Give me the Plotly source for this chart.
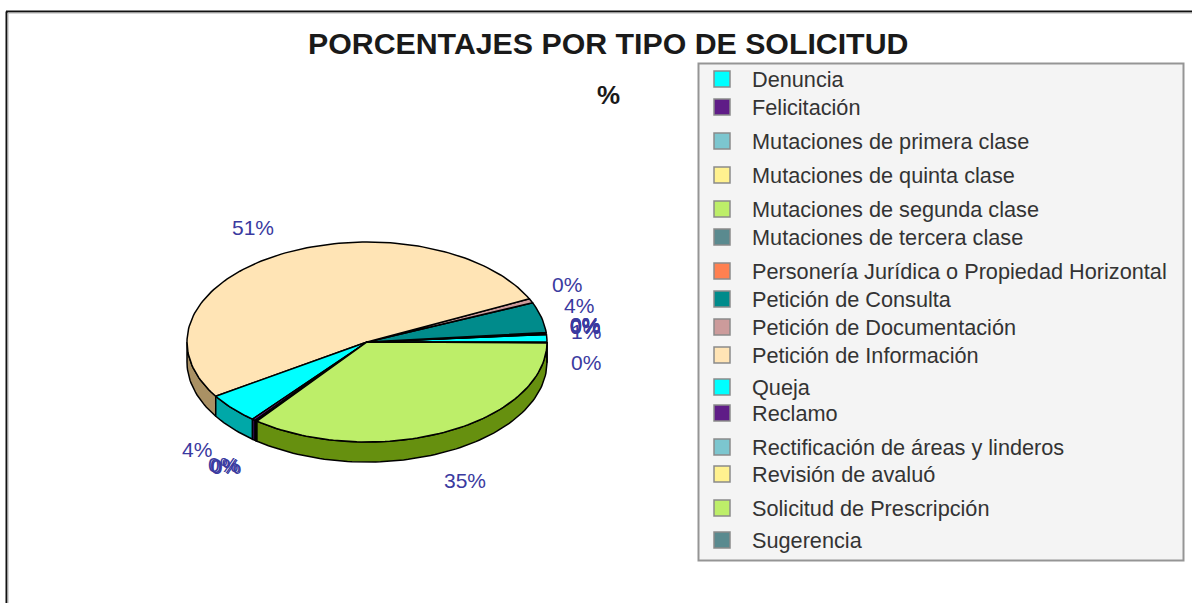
import math
import plotly.graph_objects as go

categories = ["Denuncia", "Felicitación", "Mutaciones de primera clase", "Mutaciones de quinta clase",
              "Mutaciones de segunda clase", "Mutaciones de tercera clase",
              "Personería Jurídica o Propiedad Horizontal", "Petición de Consulta",
              "Petición de Documentación", "Petición de Información", "Queja", "Reclamo",
              "Rectificación de áreas y linderos", "Revisión de avaluó",
              "Solicitud de Prescripción", "Sugerencia"]
values = [1.2, 0.05, 0.05, 0.05, 0.05, 0.05, 0.05, 4.9, 0.7, 51.9, 4.9, 0.3, 0.1, 0.1, 35.3, 0.1]
colors = ["#00ffff", "#5f1c87", "#7cc6cf", "#fff18f", "#bdee69", "#5a8a8f", "#ff8050", "#008b8b",
          "#cc9b9b", "#ffe4b5", "#00ffff", "#5f1c87", "#7cc6cf", "#fff18f", "#bdee69", "#5a8a8f"]
side_colors = ["#00a8a8", "#3c1058", "#508288", "#a89e5c", "#66900f", "#3a5a5e", "#a85434", "#005c5c",
               "#866666", "#aa9164", "#00a8a8", "#3c1058", "#508288", "#a89e5c", "#66900f", "#3a5a5e"]
legend_rows = [79, 107, 141, 175, 209, 237, 271, 299, 327, 355, 387, 413, 447, 474, 508, 540]

CX, CY, RX, RY, DEPTH = 367, 342, 180, 100, 20
LABEL = "#3a3aa0"
FONT = "Liberation Sans"
total = sum(values)


def arc(a0, a1, dy=0):
    n = max(2, int(abs(a1 - a0) / 1.5) + 2)
    pts = [a0 + (a1 - a0) * i / (n - 1) for i in range(n)]
    return ([CX + RX * math.cos(math.radians(p)) for p in pts],
            [CY + dy - RY * math.sin(math.radians(p)) for p in pts])


spans = []
acc = 0.0
for v in values:
    spans.append((acc, acc + v / total * 360))
    acc += v / total * 360

fig = go.Figure()
LINE = dict(color="black", width=1.5)
# extruded rim
for (a0, a1), sc in zip(spans, side_colors):
    lo, hi = max(a0, 180), min(a1, 360)
    if hi <= lo:
        continue
    xt, yt = arc(lo, hi)
    xb, yb = arc(hi, lo, DEPTH)
    fig.add_trace(go.Scatter(x=xt + xb + xt[:1], y=yt + yb + yt[:1], mode="lines", fill="toself",
                             fillcolor=sc, line=LINE, hoverinfo="skip", showlegend=False))
# top face
for (a0, a1), c in zip(spans, colors):
    xa, ya = arc(a0, a1)
    fig.add_trace(go.Scatter(x=[CX] + xa + [CX], y=[CY] + ya + [CY], mode="lines", fill="toself",
                             fillcolor=c, line=LINE, hoverinfo="skip", showlegend=False))

# percentage labels
for (a0, a1), v in zip(spans, values):
    m = math.radians((a0 + a1) / 2)
    c, s = math.cos(m), math.sin(m)
    x = CX + 215 * c + (-9 if c < 0 else 4)
    y = CY - 124 * s - 6 if s >= 0 else CY - 132 * s + 20
    fig.add_annotation(x=x, y=y, text=f"{int(v)}%", showarrow=False, xanchor="center", yanchor="middle",
                       font=dict(family=FONT, size=21, color=LABEL))

shapes = [
    dict(type="line", x0=6.5, x1=6.5, y0=11.5, y1=603, line=dict(color="#111111", width=2)),
    dict(type="line", x0=6, x1=1192, y0=11.5, y1=11.5, line=dict(color="#111111", width=2)),
    dict(type="line", x0=8, x1=8, y0=13, y1=603, line=dict(color="#b0b0b0", width=1)),
    dict(type="line", x0=8, x1=1192, y0=13, y1=13, line=dict(color="#b0b0b0", width=1)),
    dict(type="rect", x0=698.5, x1=1183.5, y0=63.5, y1=560.5, fillcolor="#f4f4f4",
         line=dict(color="#959595", width=2), layer="below"),
]
for name, col, y in zip(categories, colors, legend_rows):
    shapes.append(dict(type="rect", x0=714, x1=730, y0=y - 8, y1=y + 8, fillcolor=col,
                       line=dict(color="#8a8a8a", width=1.5)))
    fig.add_annotation(x=750, y=y, text=name, showarrow=False, xanchor="left", yanchor="middle",
                       font=dict(family=FONT, size=21.7, color="#333333"))

fig.add_annotation(x=607.5, y=43, text="<b>PORCENTAJES POR TIPO DE SOLICITUD</b>", showarrow=False,
                   font=dict(family=FONT, size=30.3, color="#1a1a1a"))
fig.add_annotation(x=608, y=95, text="<b>%</b>", showarrow=False,
                   font=dict(family=FONT, size=26, color="#1a1a1a"))

fig.update_layout(width=1192, height=603, margin=dict(l=0, r=0, t=0, b=0), autosize=False,
                  paper_bgcolor="white", plot_bgcolor="white", shapes=shapes, showlegend=False,
                  xaxis=dict(range=[0, 1192], visible=False, fixedrange=True),
                  yaxis=dict(range=[603, 0], visible=False, fixedrange=True))
fig.write_html("out.html", config=dict(displayModeBar=False),
               post_script="document.body.style.margin='0';document.body.style.overflow='hidden';")
